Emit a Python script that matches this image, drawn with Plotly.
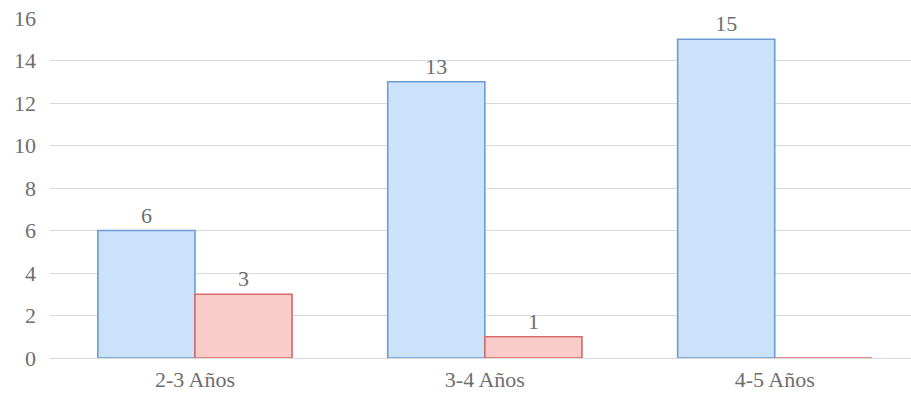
import plotly.graph_objects as go

categories = ["2-3 Años", "3-4 Años", "4-5 Años"]
serie_a = [6, 13, 15]
serie_b = [3, 1, 0]
y_ticks = [0, 2, 4, 6, 8, 10, 12, 14, 16]

font_family = "Liberation Serif, DejaVu Serif, serif"
gray = "#6e6e6e"
fsize = 22

fig = go.Figure()
fig.add_trace(go.Bar(
    x=categories, y=serie_a,
    text=[str(v) if v else "" for v in serie_a],
    textposition="outside", cliponaxis=False,
    textfont=dict(family=font_family, size=fsize, color=gray),
    marker=dict(color="#CAE2FA", line=dict(color="#6E9AD6", width=1.6)),
))
fig.add_trace(go.Bar(
    x=categories, y=serie_b,
    text=[str(v) if v else "" for v in serie_b],
    textposition="outside", cliponaxis=False,
    textfont=dict(family=font_family, size=fsize, color=gray),
    marker=dict(color="#F9CBC9", line=dict(color="#D46A6A", width=1.6)),
))

fig.update_layout(
    width=911, height=398,
    margin=dict(l=50, r=0, t=18, b=40),
    paper_bgcolor="white", plot_bgcolor="white",
    barmode="group", bargap=0.33, bargroupgap=0,
    showlegend=False,
    font=dict(family=font_family, size=fsize, color=gray),
)
fig.update_xaxes(
    range=[-0.5, 2.47], showgrid=False, showline=False, ticks="",
    ticklabelstandoff=6,
    tickfont=dict(family=font_family, size=fsize, color=gray),
)
fig.update_yaxes(
    range=[0, 16], tickvals=y_ticks, showgrid=True, gridcolor="#D9D9D9", gridwidth=1.3,
    zeroline=True, zerolinecolor="#D9D9D9", zerolinewidth=1.3,
    showline=False, ticks="", ticklabelstandoff=13,
    tickfont=dict(family=font_family, size=fsize, color=gray),
)

fig.write_html("out.html")
